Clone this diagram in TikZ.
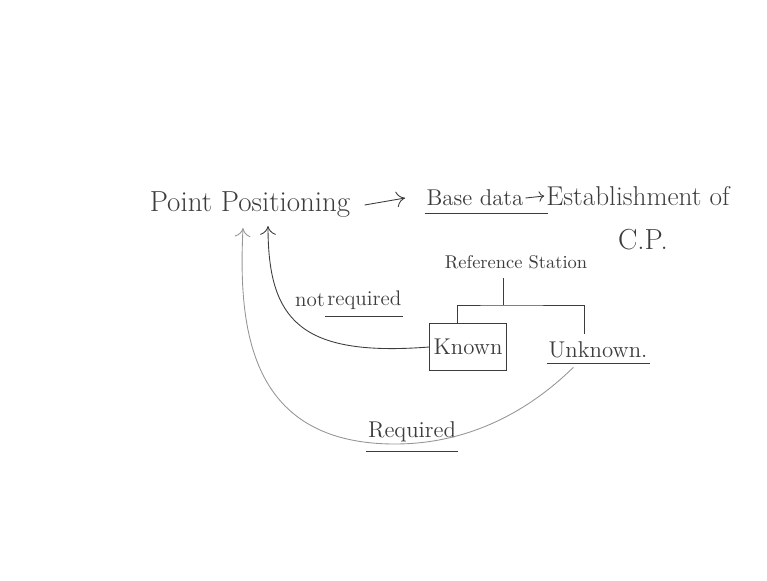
\documentclass[tikz,border=0pt]{standalone}
\usetikzlibrary{positioning,arrows.meta}
\definecolor{pen}{RGB}{60,60,60}
\definecolor{pale}{RGB}{150,150,150}
\tikzset{
  word/.style={inner sep=1pt,text=pen},
  big/.style={word,font=\fontsize{16.5}{19}\selectfont},
  mid/.style={word,font=\fontsize{13}{16}\selectfont},
  small/.style={word,font=\fontsize{10.5}{13}\selectfont},
  link/.style={draw=pen,line width=0.5pt},
  tip/.style={link,-{To[length=5pt,width=9pt]}}
}
\begin{document}
\begin{tikzpicture}[x=0.02cm,y=-0.02cm]
\useasboundingbox (0,0) rectangle (767,581);
% top row
\node[big] (pp) at (250,205) {Point Positioning};
\node[mid] (base) at (475,198) {Base data};
\node[big,font=\fontsize{15.5}{19}\selectfont] (est) at (638,196) {Establishment of};
\node[big] (cp) at (643,240) {C.P.};
\draw[tip] ([xshift=7pt]pp.east) -- ([xshift=-11pt]base.west);
\draw[link,-{To[length=3pt,width=6pt]}] (base.east) -- (est.west);
\draw[link] ([yshift=-3pt]base.south west) -- ([xshift=13pt,yshift=-3pt]base.south east);
% reference station and its two cases
\node[small] (ref) at (516,262) {Reference Station};
\node[mid,draw=pen,minimum width=1.54cm,minimum height=0.94cm] (known) at (468,347) {Known};
\node[mid] (unk) at (598,350) {Unknown.};
\draw[link] ([yshift=-2pt]unk.south west) -- ([yshift=-2pt]unk.south east);
\coordinate (fork) at (503,305);
\draw[link] ([yshift=-4pt]fork |- ref.south) -- (fork);
\draw[link] ([xshift=-6pt]known.north) |- (fork) -| ([xshift=-8pt,yshift=3pt]unk.north);
% back to point positioning
\coordinate (tipA) at (243,228);
\coordinate (tipB) at (268,226);
\node[mid,font=\fontsize{12}{15}\selectfont] (not) at (310,300) {not};
\node[mid,font=\fontsize{12}{15}\selectfont,right=-1pt of not] (req) {required};
\draw[link] ([yshift=-3pt]req.south west) -- ([yshift=-3pt]req.south east);
\draw[tip] (known.west) .. controls (300,357) and (268,320) .. (tipB);
\node[mid] (required) at (412,432) {Required};
\draw[link] ([yshift=-4pt]required.south west) -- ([yshift=-4pt]required.south east);
\draw[link,draw=pale,-{To[length=5pt,width=9pt]}] ([xshift=-14pt,yshift=-4pt]unk.south)
  .. controls (530,410) and (470,444) .. (395,444)
  .. controls (250,444) and (238,330) .. (tipA);
\end{tikzpicture}
\end{document}
